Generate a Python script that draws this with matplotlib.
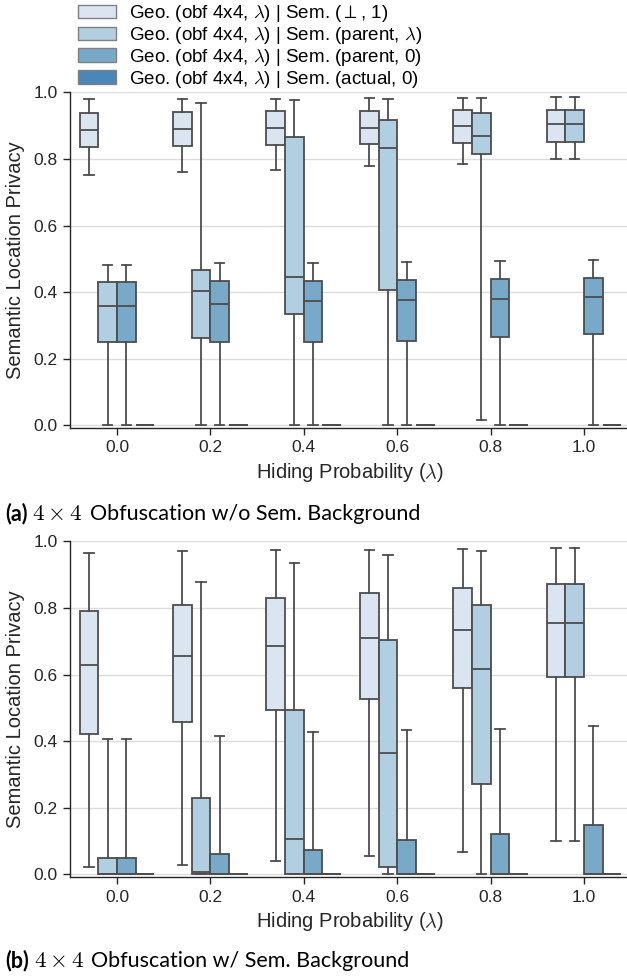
import matplotlib
matplotlib.use("Agg")
import matplotlib.pyplot as plt
from matplotlib.patches import Patch

plt.rcParams["font.family"] = ["Liberation Sans", "DejaVu Sans"]
plt.rcParams["mathtext.fontset"] = "cm"

lambdas = ["0.0", "0.2", "0.4", "0.6", "0.8", "1.0"]
series_labels = [
    r"Geo. (obf 4x4, $\lambda$) | Sem. ($\perp$, 1)",
    r"Geo. (obf 4x4, $\lambda$) | Sem. (parent, $\lambda$)",
    r"Geo. (obf 4x4, $\lambda$) | Sem. (parent, 0)",
    r"Geo. (obf 4x4, $\lambda$) | Sem. (actual, 0)",
]
colors = ["#dae5f1", "#b2cee1", "#78a9c9", "#4a86b8"]
zeros = [0.0] * 6

# (a) w/o semantic background: rows = series, columns = lambda
a_whishi = [[0.979, 0.979, 0.980, 0.982, 0.982, 0.985],
            [0.480, 0.967, 0.977, 0.979, 0.982, 0.985],
            [0.480, 0.486, 0.488, 0.490, 0.492, 0.495],
            zeros]
a_q3 = [[0.939, 0.942, 0.943, 0.944, 0.946, 0.948],
        [0.430, 0.465, 0.866, 0.917, 0.938, 0.948],
        [0.430, 0.432, 0.434, 0.437, 0.438, 0.441],
        zeros]
a_med = [[0.888, 0.889, 0.893, 0.893, 0.899, 0.905],
         [0.359, 0.404, 0.445, 0.833, 0.870, 0.905],
         [0.359, 0.364, 0.372, 0.377, 0.380, 0.386],
         zeros]
a_q1 = [[0.835, 0.838, 0.842, 0.846, 0.849, 0.852],
        [0.251, 0.261, 0.333, 0.407, 0.814, 0.852],
        [0.251, 0.249, 0.249, 0.254, 0.264, 0.274],
        zeros]
a_whislo = [[0.753, 0.760, 0.768, 0.778, 0.786, 0.799],
            [0.0, 0.0, 0.0, 0.0, 0.017, 0.799],
            zeros,
            zeros]

# (b) w/ semantic background
b_whishi = [[0.965, 0.970, 0.973, 0.975, 0.977, 0.980],
            [0.407, 0.878, 0.935, 0.958, 0.971, 0.980],
            [0.407, 0.416, 0.426, 0.433, 0.437, 0.445],
            zeros]
b_q3 = [[0.790, 0.810, 0.830, 0.845, 0.860, 0.872],
        [0.048, 0.228, 0.492, 0.704, 0.808, 0.872],
        [0.048, 0.062, 0.074, 0.103, 0.120, 0.147],
        zeros]
b_med = [[0.630, 0.657, 0.687, 0.710, 0.735, 0.754],
         [0.0, 0.006, 0.107, 0.365, 0.616, 0.754],
         zeros,
         zeros]
b_q1 = [[0.421, 0.456, 0.493, 0.527, 0.560, 0.594],
        [0.0, 0.0, 0.0, 0.023, 0.271, 0.594],
        zeros,
        zeros]
b_whislo = [[0.021, 0.029, 0.041, 0.056, 0.068, 0.101],
            [0.0, 0.0, 0.0, 0.0, 0.0, 0.101],
            zeros,
            zeros]

W, H = 627, 977
edge = "#4d4d4d"
lw = 1.3


def draw_panel(ax, whislo, q1, med, q3, whishi):
    for h in range(4):
        stats = [dict(whislo=whislo[h][i], q1=q1[h][i], med=med[h][i],
                      q3=q3[h][i], whishi=whishi[h][i], fliers=[])
                 for i in range(len(lambdas))]
        pos = [i + (h - 1.5) * 0.2 for i in range(len(lambdas))]
        ax.bxp(stats, positions=pos, widths=0.2, patch_artist=True,
               showfliers=False, manage_ticks=False,
               boxprops=dict(facecolor=colors[h], edgecolor=edge, linewidth=lw),
               medianprops=dict(color=edge, linewidth=lw),
               whiskerprops=dict(color=edge, linewidth=lw),
               capprops=dict(color=edge, linewidth=lw))
    ax.set_xlim(-0.5, 5.5)
    ax.set_ylim(-0.008, 1.0)
    ax.set_xticks(range(len(lambdas)))
    ax.set_xticklabels(lambdas)
    ax.set_yticks([0.0, 0.2, 0.4, 0.6, 0.8, 1.0])
    ax.set_yticklabels(["0.0", "0.2", "0.4", "0.6", "0.8", "1.0"])
    ax.yaxis.grid(True, color="#dcdcdc", linewidth=1.0)
    ax.set_axisbelow(True)
    for s in ("top", "right"):
        ax.spines[s].set_visible(False)
    for s in ("left", "bottom"):
        ax.spines[s].set_color("#262626")
        ax.spines[s].set_linewidth(1.0)
    ax.tick_params(direction="out", length=5, width=1, color="#262626",
                   labelsize=12.5, labelcolor="#262626", pad=4)
    ax.set_xlabel(r"Hiding Probability ($\lambda$)", fontsize=14.5, color="#262626", labelpad=4)
    ax.set_ylabel("Semantic Location Privacy", fontsize=14.5, color="#262626", labelpad=6)


fig = plt.figure(figsize=(W / 100, H / 100), dpi=100)
ax_a = fig.add_axes([70.3 / W, (H - 428) / H, 560.4 / W, 335.7 / H])
ax_b = fig.add_axes([70.3 / W, (H - 877) / H, 560.4 / W, 335.7 / H])
draw_panel(ax_a, a_whislo, a_q1, a_med, a_q3, a_whishi)
draw_panel(ax_b, b_whislo, b_q1, b_med, b_q3, b_whishi)

handles = [Patch(facecolor=c, edgecolor="#808080", linewidth=1) for c in colors]
fig.legend(handles, series_labels, loc="upper left",
           bbox_to_anchor=(78 / W, 1 - 3 / H), bbox_transform=fig.transFigure,
           frameon=False, fontsize=13.5, borderpad=0, borderaxespad=0,
           handlelength=2.0, handleheight=0.75, handletextpad=0.7,
           labelspacing=0.05)

renderer = fig.canvas.get_renderer()


def caption(y_px, tag, text):
    y = 1 - y_px / H
    t1 = fig.text(5 / W, y, tag, fontweight="bold", family="Lato",
                  fontsize=15.5, va="baseline")
    x = t1.get_window_extent(renderer).x1 + 5
    t2 = fig.text(x / W, y, r"$4\times4$", fontsize=16.5, va="baseline")
    x = t2.get_window_extent(renderer).x1 + 7
    fig.text(x / W, y, text, family="Lato", fontsize=15.5, va="baseline")


caption(520, "(a)", "Obfuscation w/o Sem. Background")
caption(967, "(b)", "Obfuscation w/ Sem. Background")

fig.savefig("out.png", dpi=100)
